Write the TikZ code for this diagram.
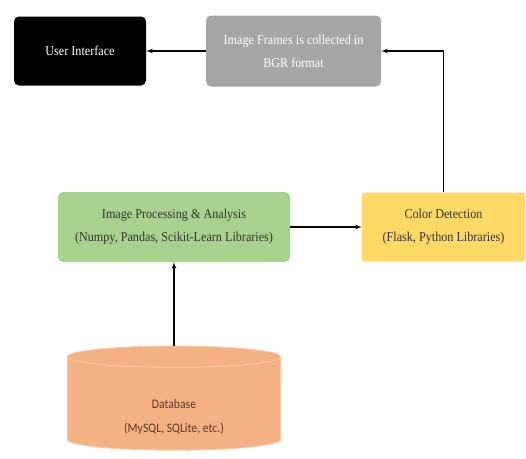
\documentclass[tikz,border=0pt]{standalone}
\usepackage{fontspec}
\setmainfont{Liberation Serif}
\newfontfamily\boxfont[FakeStretch=0.9]{Liberation Serif}
\newfontfamily\dbfont[FakeStretch=0.9]{Carlito}
\usetikzlibrary{arrows,shapes.geometric}
\definecolor{framegray}{HTML}{A6A6A6}
\definecolor{procgreen}{HTML}{A9D18E}
\definecolor{coloryellow}{HTML}{FFD966}
\definecolor{dbsalmon}{HTML}{F4B183}
\definecolor{dbtop}{HTML}{F7C6A4}
\definecolor{dbtext}{HTML}{5A3A2A}
\begin{document}
\begin{tikzpicture}[x=1pt,y=-1pt]
		\tikzset{box/.style = {shape=rectangle,rounded corners=5pt,align=center,font=\boxfont\fontsize{13.5}{23}\selectfont}}
		\tikzset{edge/.style = {->,> = latex',line width=1.2pt}}
		\useasboundingbox (0,0) rectangle (526,458);
		\node[box,fill=black,text=white,minimum width=132pt,minimum height=69pt] (ui) at (80,51) {User Interface};
		\node[box,fill=framegray,text=white,minimum width=175pt,minimum height=71pt] (frames) at (293.5,51) {Image Frames is collected in\\BGR format};
		\node[box,fill=procgreen,text=black!80,minimum width=232pt,minimum height=70pt] (proc) at (174,227) {Image Processing \& Analysis\\(Numpy, Pandas, Scikit-Learn Libraries)};
		\node[box,fill=coloryellow,text=black!80,rounded corners=2pt,minimum width=163pt,minimum height=69pt] (color) at (443.5,227) {Color Detection\\(Flask, Python Libraries)};
		\node[shape=cylinder,shape border rotate=90,aspect=0.2,draw=dbtop,line width=1pt,fill=dbsalmon,minimum width=213pt,minimum height=104pt,align=center,text=dbtext,font=\dbfont\fontsize{13}{24}\selectfont] (db) at (174,405) {\\[10pt]Database\\(MySQL, SQLite, etc.)};
		\path[edge] (frames) edge (ui);
		\draw[edge] (color.north) |- (frames.east);
		\path[edge] (proc) edge (color);
		\path[edge] (db) edge (proc);
	\end{tikzpicture}
\end{document}
